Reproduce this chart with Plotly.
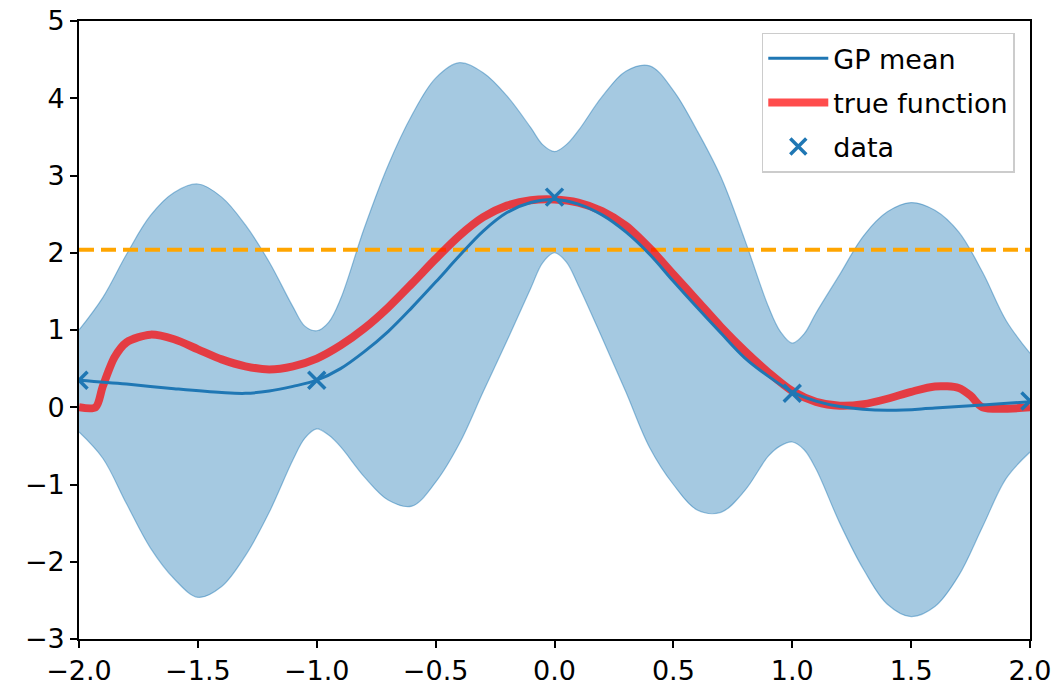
import plotly.graph_objects as go

# ---- data ----
band_upper_x = [-2.0, -1.9, -1.8, -1.7, -1.6, -1.5, -1.4, -1.3, -1.2, -1.1, -1.05, -1.0, -0.95,
                -0.9, -0.8, -0.7, -0.6, -0.5, -0.4, -0.3, -0.2, -0.1, -0.05, 0.0, 0.05, 0.1,
                0.2, 0.3, 0.4, 0.5, 0.6, 0.7, 0.8, 0.9, 0.95, 1.0, 1.05, 1.1, 1.2, 1.3, 1.4,
                1.5, 1.6, 1.7, 1.8, 1.9, 2.0]
band_upper_y = [1.00, 1.42, 1.98, 2.48, 2.78, 2.89, 2.72, 2.36, 1.88, 1.30, 1.05, 0.99, 1.10,
                1.40, 2.32, 3.13, 3.78, 4.26, 4.46, 4.33, 4.03, 3.62, 3.40, 3.31, 3.40, 3.58,
                4.02, 4.35, 4.42, 4.10, 3.58, 2.98, 2.17, 1.30, 0.98, 0.83, 0.95, 1.22, 1.72,
                2.22, 2.53, 2.65, 2.55, 2.27, 1.75, 1.12, 0.70]

band_lower_x = [-2.0, -1.9, -1.8, -1.7, -1.6, -1.5, -1.4, -1.3, -1.2, -1.1, -1.05, -1.0, -0.95,
                -0.9, -0.8, -0.7, -0.6, -0.5, -0.4, -0.3, -0.2, -0.1, -0.05, 0.0, 0.05, 0.1,
                0.2, 0.3, 0.4, 0.5, 0.6, 0.7, 0.8, 0.9, 0.95, 1.0, 1.05, 1.1, 1.2, 1.3, 1.4,
                1.5, 1.6, 1.7, 1.8, 1.9, 2.0]
band_lower_y = [-0.32, -0.66, -1.25, -1.82, -2.22, -2.46, -2.32, -1.92, -1.36, -0.68, -0.40, -0.28, -0.36,
                -0.51, -0.90, -1.20, -1.28, -0.97, -0.47, 0.20, 0.86, 1.54, 1.87, 2.00, 1.88, 1.58,
                0.90, 0.20, -0.52, -1.00, -1.33, -1.36, -1.08, -0.63, -0.50, -0.45, -0.55, -0.80, -1.50,
                -2.10, -2.55, -2.71, -2.58, -2.18, -1.55, -0.92, -0.58]

mean_x = [-2.0, -1.8, -1.6, -1.4, -1.3, -1.2, -1.1, -1.0, -0.9, -0.8, -0.7, -0.6, -0.5, -0.4,
          -0.3, -0.2, -0.1, 0.0, 0.1, 0.2, 0.3, 0.4, 0.5, 0.6, 0.7, 0.8, 0.9, 1.0, 1.1, 1.2,
          1.4, 1.6, 1.8, 2.0]
mean_y = [0.35, 0.30, 0.24, 0.19, 0.18, 0.21, 0.27, 0.35, 0.50, 0.72, 0.98, 1.29, 1.62, 1.96,
          2.28, 2.52, 2.65, 2.69, 2.63, 2.49, 2.27, 1.98, 1.63, 1.29, 0.96, 0.64, 0.40, 0.20, 0.08, 0.01,
          -0.04, -0.01, 0.03, 0.07]

true_x = [-2.0, -1.93, -1.9, -1.85, -1.8, -1.7, -1.6, -1.5, -1.4, -1.3, -1.2, -1.1, -1.0, -0.9,
          -0.8, -0.7, -0.6, -0.5, -0.4, -0.3, -0.2, -0.1, 0.0, 0.1, 0.2, 0.3, 0.4, 0.5, 0.6,
          0.7, 0.8, 0.9, 1.0, 1.1, 1.2, 1.3, 1.4, 1.5, 1.6, 1.7, 1.75, 1.8, 2.0]
true_y = [0.0, 0.0, 0.27, 0.65, 0.84, 0.94, 0.88, 0.75, 0.62, 0.53, 0.49, 0.53, 0.63, 0.80,
          1.02, 1.29, 1.60, 1.92, 2.22, 2.46, 2.61, 2.68, 2.69, 2.65, 2.54, 2.35, 2.06, 1.72, 1.38,
          1.04, 0.73, 0.45, 0.21, 0.07, 0.02, 0.04, 0.11, 0.20, 0.27, 0.25, 0.15, 0.0, 0.0]

data_x = [-2.0, -1.0, 0.0, 1.0, 2.0]
data_y = [0.35, 0.35, 2.72, 0.18, 0.08]

threshold_x = [-2.0, 2.0]
threshold_y = [2.04, 2.04]

x_ticks = [-2.0, -1.5, -1.0, -0.5, 0.0, 0.5, 1.0, 1.5, 2.0]
x_tick_labels = ["\u22122.0", "\u22121.5", "\u22121.0", "\u22120.5", "0.0", "0.5", "1.0", "1.5", "2.0"]
y_ticks = [-3, -2, -1, 0, 1, 2, 3, 4, 5]
y_tick_labels = ["\u22123", "\u22122", "\u22121", "0", "1", "2", "3", "4", "5"]

C0 = "#1f77b4"
FONT = "DejaVu Sans"

fig = go.Figure()

fig.add_trace(go.Scatter(x=band_lower_x, y=band_lower_y, mode="lines",
                         line=dict(color="rgba(31,119,180,0.45)", width=1.2, shape="spline", smoothing=1.0),
                         showlegend=False, hoverinfo="skip"))
fig.add_trace(go.Scatter(x=band_upper_x, y=band_upper_y, mode="lines",
                         line=dict(color="rgba(31,119,180,0.45)", width=1.2, shape="spline", smoothing=1.0),
                         fill="tonexty", fillcolor="rgba(31,119,180,0.4)",
                         showlegend=False, hoverinfo="skip"))
fig.add_trace(go.Scatter(x=threshold_x, y=threshold_y, mode="lines",
                         line=dict(color="#FFA500", width=4, dash="15px,7px"),
                         showlegend=False))
fig.add_trace(go.Scatter(x=true_x, y=true_y, mode="lines", name="true function",
                         line=dict(color="rgba(255,0,0,0.7)", width=8, shape="spline", smoothing=0.8),
                         legendgroup="b", legendrank=2))
fig.add_trace(go.Scatter(x=mean_x, y=mean_y, mode="lines", name="GP mean",
                         line=dict(color=C0, width=3, shape="spline", smoothing=1.0),
                         legendgroup="a", legendrank=1))
fig.add_trace(go.Scatter(x=data_x, y=data_y, mode="markers", name="data",
                         marker=dict(symbol="x-thin", size=17, line=dict(color=C0, width=3.5), color=C0),
                         legendgroup="c", legendrank=3))

axis_common = dict(showline=True, linecolor="black", linewidth=1.6, mirror=True,
                   ticks="outside", ticklen=7, tickwidth=1.6, tickcolor="black",
                   showgrid=False, zeroline=False, automargin=False,
                   tickfont=dict(family=FONT, size=27, color="black"))

fig.update_xaxes(range=[-2, 2], tickvals=x_ticks, ticktext=x_tick_labels, **axis_common)
fig.update_yaxes(range=[-3, 5], tickvals=y_ticks, ticktext=y_tick_labels, **axis_common)

fig.update_layout(
    width=1056, height=688,
    margin=dict(l=79, r=26, t=21, b=49, autoexpand=False),
    plot_bgcolor="white", paper_bgcolor="white",
    font=dict(family=FONT, color="black"),
    legend=dict(x=0.984, y=0.981, xanchor="right", yanchor="top",
                bgcolor="rgba(255,255,255,0.8)", bordercolor="#cccccc", borderwidth=1.5,
                font=dict(family=FONT, size=27, color="black"),
                tracegroupgap=6, itemwidth=60),
)

fig.write_html("out.html")
